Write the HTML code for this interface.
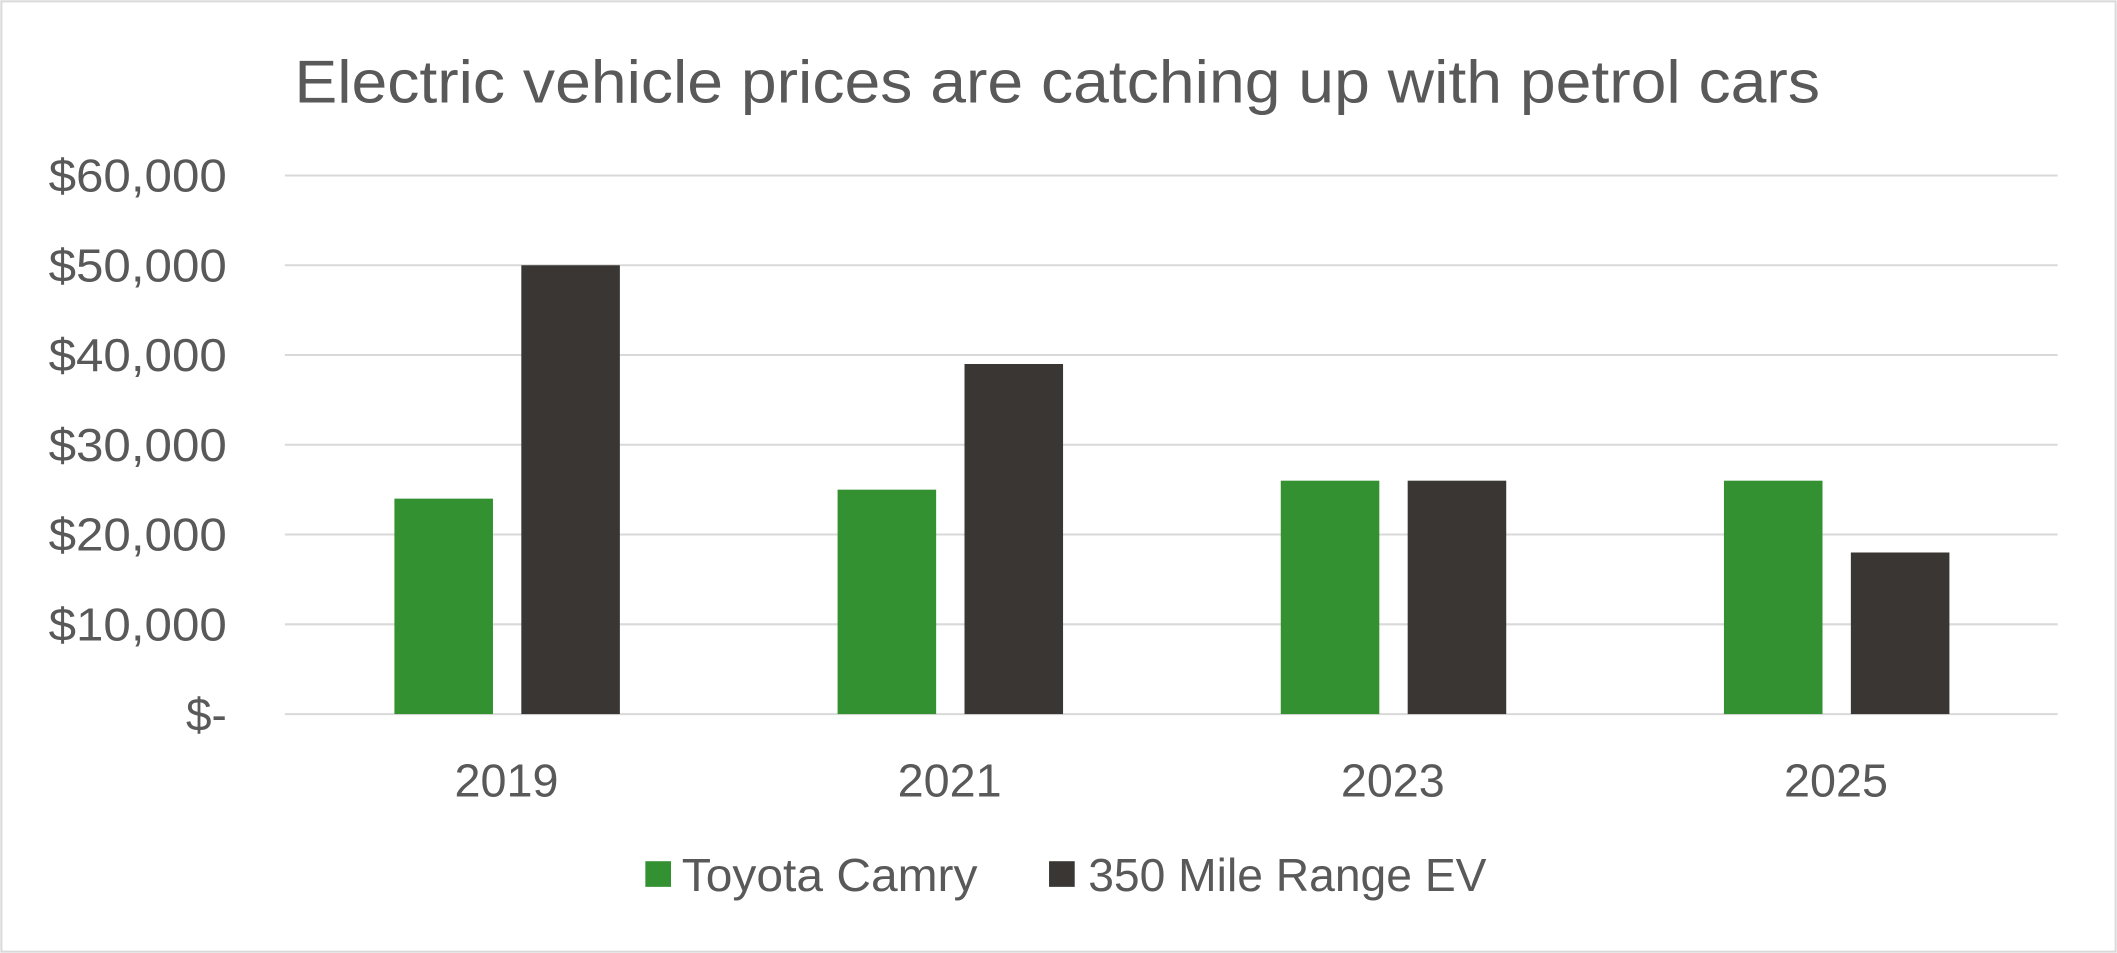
<!DOCTYPE html>
<html><head><meta charset="utf-8"><style>
html,body{margin:0;padding:0;background:#fff;}
svg{display:block;font-family:"Liberation Sans",sans-serif;}
</style></head><body>
<svg id="chart" width="2117" height="953" viewBox="0 0 1568 706" preserveAspectRatio="none">
<rect x="1" y="1" width="1566" height="704" fill="#fff" stroke="#d9d9d9" stroke-width="1.5"/>
<text x="218" y="76" font-size="45" fill="#595959" textLength="1130" lengthAdjust="spacingAndGlyphs">Electric vehicle prices are catching up with petrol cars</text>
<g id="grid"></g><g id="bars"></g><g id="labels"></g>
<g>
<rect x="478" y="638" width="19" height="19" fill="#339131"/>
<text x="505" y="660" font-size="34" fill="#595959" textLength="219" lengthAdjust="spacingAndGlyphs">Toyota Camry</text>
<rect x="777" y="638" width="19" height="19" fill="#3a3633"/>
<text x="806" y="660" font-size="34" fill="#595959" textLength="295" lengthAdjust="spacingAndGlyphs">350 Mile Range EV</text>
</g>
</svg>
<script>
const categories = ['2019','2021','2023','2025'];
const camry = [24000,25000,26000,26000];
const ev = [50000,39000,26000,18000];
const ticks = [0,10000,20000,30000,40000,50000,60000];
const tickLabels = ['$-','$10,000','$20,000','$30,000','$40,000','$50,000','$60,000'];
const NS='http://www.w3.org/2000/svg';
const x0=211,x1=1524,yTop=130,yBot=529,maxV=60000;
const y=v=>yBot-(v/maxV)*(yBot-yTop);
const bw=(x1-x0)/categories.length;
const grid=document.getElementById('grid'),bars=document.getElementById('bars'),labels=document.getElementById('labels');
function mk(tag,attrs,parent){const e=document.createElementNS(NS,tag);for(const k in attrs)e.setAttribute(k,attrs[k]);parent.appendChild(e);return e;}
ticks.forEach((t,i)=>{
  const l=mk('line',{x1:x0,x2:x1,y1:y(t),y2:y(t),stroke:'#d9d9d9','stroke-width':1.5},grid);
  
  
  const attrs={x:168,y:y(t)+12,'font-size':34,fill:'#595959','text-anchor':'end'};
  if(tickLabels[i].length>3){attrs.textLength=132;attrs.lengthAdjust='spacingAndGlyphs';}
  const tx=mk('text',attrs,labels);
  tx.textContent=tickLabels[i];
  
  
});
categories.forEach((c,i)=>{
  const cx=x0+bw*(i+0.5);
  const g=mk('rect',{x:cx-83,y:y(camry[i]),width:73,height:yBot-y(camry[i]),fill:'#339131'},bars);
  
  
  const d=mk('rect',{x:cx+11,y:y(ev[i]),width:73,height:yBot-y(ev[i]),fill:'#3a3633'},bars);
  
  
  const t=mk('text',{x:cx,y:590,'font-size':34,fill:'#595959','text-anchor':'middle',textLength:77,lengthAdjust:'spacingAndGlyphs'},labels);
  t.textContent=c;
  
  
});
</script>
</body></html>
